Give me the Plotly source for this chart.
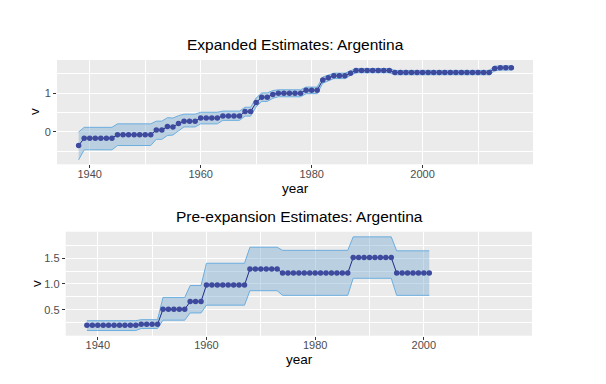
import plotly.graph_objects as go

# ---------------- data ----------------
years_exp = list(range(1938, 2017))
v_exp = ([-0.35] + [-0.16] * 6 + [-0.07] * 7 + [0.05, 0.05, 0.14, 0.13, 0.22] + [0.28] * 3 +
         [0.36] * 4 + [0.41] * 4 + [0.53, 0.53, 0.76, 0.90, 0.90, 0.97] + [1.00] * 5 +
         [1.08] * 3 + [1.34, 1.40, 1.45, 1.45, 1.45, 1.52] + [1.59] * 7 + [1.54] * 18 +
         [1.64, 1.66, 1.66, 1.66])
lo_exp = ([-0.72] + [-0.46] * 6 + [-0.35] * 7 + [-0.19, -0.19, -0.09, -0.08, 0.03] + [0.13] * 3 +
          [0.21] * 4 + [0.30] * 4 + [0.41, 0.41, 0.65, 0.79, 0.79, 0.87] + [0.91] * 5 +
          [0.99] * 3 + [1.26, 1.32, 1.38, 1.38, 1.38, 1.46] + [1.53] * 7 + [1.48] * 18 +
          [1.58, 1.60, 1.60, 1.60])
hi_exp = ([0.00] + [0.12] * 6 + [0.21] * 7 + [0.28, 0.28, 0.37, 0.36, 0.42] + [0.46] * 3 +
          [0.51] * 4 + [0.54] * 4 + [0.64, 0.64, 0.88, 1.01, 1.01, 1.07] + [1.09] * 5 +
          [1.16] * 3 + [1.42, 1.47, 1.52, 1.52, 1.52, 1.58] + [1.64] * 7 + [1.59] * 18 +
          [1.70, 1.71, 1.71, 1.71])

years_pre = list(range(1938, 2002))
v_pre = ([0.20] * 10 + [0.22] * 4 + [0.51] * 5 + [0.66] * 3 + [0.98] * 8 + [1.29] * 6 +
         [1.21] * 13 + [1.51] * 8 + [1.21] * 7)
lo_pre = ([0.10] * 10 + [0.14] * 4 + [0.30] * 5 + [0.44] * 3 + [0.59] * 8 + [0.87] * 6 +
          [0.78] * 13 + [1.11] * 8 + [0.78] * 7)
hi_pre = ([0.29] * 10 + [0.31] * 4 + [0.74] * 5 + [0.97] * 3 + [1.40] * 8 + [1.71] * 6 +
          [1.65] * 13 + [1.91] * 8 + [1.64] * 7)

titles = ["Expanded Estimates: Argentina", "Pre-expansion Estimates: Argentina"]
x_ticks = [1940, 1960, 1980, 2000]
y_ticks_exp = [0, 1]
y_ticks_pre = [0.5, 1.0, 1.5]
y_ticklabels_pre = ["0.5", "1.0", "1.5"]

# ---------------- styles ----------------
BAND_FILL = "rgba(120,170,210,0.42)"
BAND_LINE = "#6BAEDF"
PT_COLOR = "#3D4A9E"
LINE_COLOR = "#1E2A86"
BG = "#EBEBEB"
FONT = "Liberation Sans, Arial, sans-serif"

fig = go.Figure()


def add_panel(xs, v, lo, hi, xa, ya):
    fig.add_trace(go.Scatter(x=xs, y=hi, mode="lines", line=dict(color=BAND_LINE, width=1),
                             xaxis=xa, yaxis=ya, showlegend=False, hoverinfo="skip"))
    fig.add_trace(go.Scatter(x=xs, y=lo, mode="lines", line=dict(color=BAND_LINE, width=1),
                             fill="tonexty", fillcolor=BAND_FILL,
                             xaxis=xa, yaxis=ya, showlegend=False, hoverinfo="skip"))
    fig.add_trace(go.Scatter(x=xs, y=v, mode="lines", line=dict(color=LINE_COLOR, width=1),
                             xaxis=xa, yaxis=ya, showlegend=False))
    fig.add_trace(go.Scatter(x=xs, y=v, mode="markers",
                             marker=dict(color=PT_COLOR, size=5.5, line=dict(width=0)),
                             xaxis=xa, yaxis=ya, showlegend=False))


add_panel(years_exp, v_exp, lo_exp, hi_exp, "x", "y")
add_panel(years_pre, v_pre, lo_pre, hi_pre, "x2", "y2")

W, H = 606, 384
OFF = 8  # page body margin


def px(x):
    return (x - OFF) / W


def py(y):
    return 1 - (y - OFF) / H


top_dom_x = [px(57), px(533)]
bot_dom_x = [px(65.7), px(532)]
top_dom_y = [py(164.3), py(60)]
bot_dom_y = [py(335.7), py(231.7)]

xaxis_common = dict(range=[1934.1, 2019.9], tickvals=x_ticks, showgrid=True, gridcolor="white",
                    gridwidth=1.1, zeroline=False, ticks="outside", ticklen=3, tickcolor="#333333",
                    tickwidth=1, tickfont=dict(size=11, color="#4D4D4D", family=FONT),
                    ticklabelstandoff=-4,
                    minor=dict(tickvals=[1950, 1970, 1990, 2010], showgrid=True, gridcolor="white",
                               gridwidth=0.5, ticks=""),
                    showline=False, automargin=False)
yaxis_common = dict(showgrid=True, gridcolor="white", gridwidth=1.1, zeroline=False,
                    ticks="outside", ticklen=3, tickcolor="#333333", tickwidth=1,
                    tickfont=dict(size=11, color="#4D4D4D", family=FONT), showline=False,
                    automargin=False)

fig.update_layout(
    width=W, height=H, margin=dict(l=0, r=0, t=0, b=0),
    paper_bgcolor="white", plot_bgcolor=BG,
    font=dict(family=FONT),
    xaxis=dict(domain=top_dom_x, anchor="y", **xaxis_common),
    yaxis=dict(domain=top_dom_y, anchor="x", range=[-0.835, 1.86], tickvals=y_ticks_exp,
               minor=dict(tickvals=[-0.5, 0.5, 1.5], showgrid=True, gridcolor="white",
                          gridwidth=0.5, ticks=""),
               **yaxis_common),
    xaxis2=dict(domain=bot_dom_x, anchor="y2", **xaxis_common),
    yaxis2=dict(domain=bot_dom_y, anchor="x2", range=[0.0, 2.01], tickvals=y_ticks_pre,
                ticktext=y_ticklabels_pre,
                minor=dict(tickvals=[0.25, 0.75, 1.25, 1.75], showgrid=True, gridcolor="white",
                           gridwidth=0.5, ticks=""),
                **yaxis_common),
    showlegend=False,
)

ann = [
    dict(text=titles[0], x=295, y=45, size=15.5),
    dict(text=titles[1], x=299, y=216, size=15.5),
    dict(text="year", x=295, y=188, size=13.5),
    dict(text="year", x=299, y=359, size=13.5),
]
for a in ann:
    fig.add_annotation(text=a["text"], x=px(a["x"]), y=py(a["y"]), xref="paper", yref="paper",
                       showarrow=False, xanchor="center", yanchor="middle",
                       font=dict(size=a["size"], color="black", family=FONT))
for yy, xx in [(112, 35), (284, 36)]:
    fig.add_annotation(text="v", x=px(xx), y=py(yy), xref="paper", yref="paper",
                       showarrow=False, textangle=-90, xanchor="center", yanchor="middle",
                       font=dict(size=13.5, color="black", family=FONT))

fig.write_html("out.html")
